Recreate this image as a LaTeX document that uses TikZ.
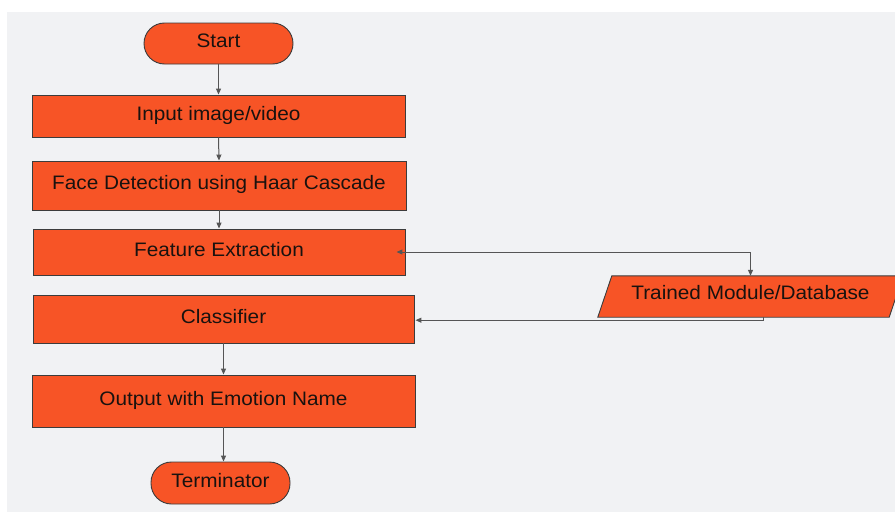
\documentclass[tikz,border=0pt]{standalone}
\usepackage{fontspec}
\setmainfont[FakeStretch=1.065]{Liberation Sans}
\usetikzlibrary{arrows.meta}
\definecolor{bgc}{RGB}{241,242,244}
\definecolor{boxc}{RGB}{247,84,38}
\definecolor{edgec}{RGB}{60,60,60}
\definecolor{linec}{RGB}{85,85,85}
\definecolor{txtc}{RGB}{25,18,15}
\tikzset{
  box/.style={rectangle, draw=edgec, fill=boxc, line width=0.9pt, text=txtc, font=\fontsize{19.5pt}{22pt}\selectfont, inner sep=0pt, text height=14pt, text depth=6pt},
  term/.style={box, rounded corners=20.5pt},
  conn/.style={draw=linec, line width=1pt, -{Triangle[length=6pt,width=5pt]}},
}
\begin{document}
\begin{tikzpicture}[x=1pt,y=-1pt]
\useasboundingbox (0,0) rectangle (895,514);
\fill[white] (0,0) rectangle (895,514);
\fill[bgc] (7,12) rectangle (895,512);
\node[term, minimum width=149pt, minimum height=41pt] (start) at (218.5,43.5) {Start};
\node[box, minimum width=373pt, minimum height=42pt] (inp) at (218.5,116) {Input image/video};
\node[box, minimum width=374pt, minimum height=49pt] (face) at (219,185.5) {Face Detection using Haar Cascade};
\node[box, minimum width=372pt, minimum height=46pt] (fe) at (219,252) {Feature Extraction};
\node[box, minimum width=381pt, minimum height=48pt] (cl) at (223.5,319) {Classifier};
\node[box, minimum width=383pt, minimum height=52pt] (out) at (223.5,401) {Output with Emotion Name};
\node[term, minimum width=139pt, minimum height=42pt] (tm2) at (220.5,483) {Terminator};
% parallelogram
\node[rectangle, minimum width=291pt, minimum height=41pt, inner sep=0pt] (tm) at (750.5,296.5) {};
\draw[draw=edgec, fill=boxc, line width=0.9pt] ([xshift=-7pt]tm.south west) -- ([xshift=-7pt]tm.south east) -- ([xshift=7pt]tm.north east) -- ([xshift=7pt]tm.north west) -- cycle;
\node[text=txtc, font=\fontsize{19.5pt}{22pt}\selectfont, text height=14pt, text depth=6pt] at ([yshift=1pt]tm.center) {Trained Module/Database};
% connectors
\draw[conn] (start.south) -- (inp.north);
\draw[conn] (inp.south) -- (face.north);
\draw[conn] (face.south) -- (fe.north);
\draw[conn] (cl.south) -- (out.north);
\draw[conn] (out.south) -- (out.south |- tm2.north);
\draw[conn, {Triangle[length=6pt,width=5pt]}-{Triangle[length=6pt,width=5pt]}] ([xshift=-9pt]fe.east) -| (tm.north);
\coordinate (bend) at ([xshift=13pt,yshift=-3pt]tm.south);
\draw[conn] ([xshift=13pt]tm.south) -- (bend) -- ([xshift=1pt]cl.east |- bend);
\end{tikzpicture}
\end{document}
